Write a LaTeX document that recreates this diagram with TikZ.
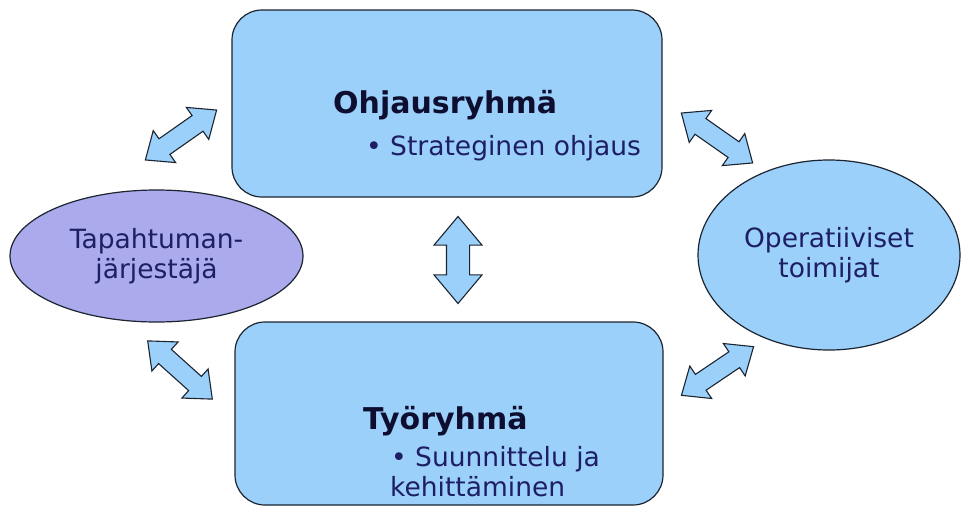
\documentclass[tikz,border=0pt]{standalone}
\usepackage{fontspec}
\setmainfont{DejaVu Sans}
\usetikzlibrary{shapes.geometric,shapes.arrows}
\definecolor{boxblue}{RGB}{155,208,250}
\definecolor{lilac}{RGB}{170,170,236}
\definecolor{edge}{RGB}{28,36,48}
\definecolor{navy}{RGB}{30,30,100}
\definecolor{titlenavy}{RGB}{14,14,48}
\begin{document}
\begin{tikzpicture}[x=1pt,y=-1pt,
  groupbox/.style={draw=edge,line width=1.2pt,fill=boxblue,rounded corners=30pt,inner sep=0pt},
  actor/.style={ellipse,draw=edge,line width=1.2pt,inner sep=0pt,align=center,text=navy,
    font=\fontsize{26.5}{30}\selectfont},
  duoarrow/.style={double arrow,draw=edge,line width=1.1pt,fill=boxblue,inner xsep=0pt,inner ysep=9pt,
    double arrow head extend=10pt,double arrow tip angle=80,minimum height=87pt},
  titletext/.style={anchor=base west,inner sep=0pt,text=titlenavy,font=\fontsize{30}{34}\selectfont\bfseries},
  itemtext/.style={anchor=base west,inner sep=0pt,text=navy,font=\fontsize{26.5}{30}\selectfont}]
\useasboundingbox[fill=white] (0,0) rectangle (961,506);
\node (ohjaus) at (447,103.5) [groupbox,minimum width=430pt,minimum height=187pt]{};
\node (tyo) at (449,413.5) [groupbox,minimum width=428pt,minimum height=183pt]{};
\node (tapahtuma) at (156.5,256) [actor,fill=lilac,minimum width=293pt,minimum height=132pt]{Tapahtuman-\\järjestäjä};
\node (operatiiviset) at (829,255) [actor,fill=boxblue,minimum width=262pt,minimum height=190pt]{Operatiiviset\\toimijat};
\node (ohjausotsikko) at (333,113) [titletext]{Ohjausryhmä};
\node (ohjauskohta) at (366,155) [itemtext]{• Strateginen ohjaus};
\node (tyootsikko) at (363,429) [titletext]{Työryhmä};
\node (tyokohta) at (391,466) [itemtext]{• Suunnittelu ja};
\node (tyojatko) at (390,496) [itemtext]{kehittäminen};
\node (nuoli1) at (181,135) [duoarrow,rotate=35]{};
\node (nuoli2) at (717,138) [duoarrow,rotate=-35]{};
\node (nuoli3) at (180,370) [duoarrow,rotate=-42]{};
\node (nuoli4) at (717.5,371) [duoarrow,rotate=34]{};
\node (nuoli5) at (458,260) [duoarrow,rotate=90,inner ysep=11pt,double arrow head extend=12.5pt]{};
\end{tikzpicture}
\end{document}
